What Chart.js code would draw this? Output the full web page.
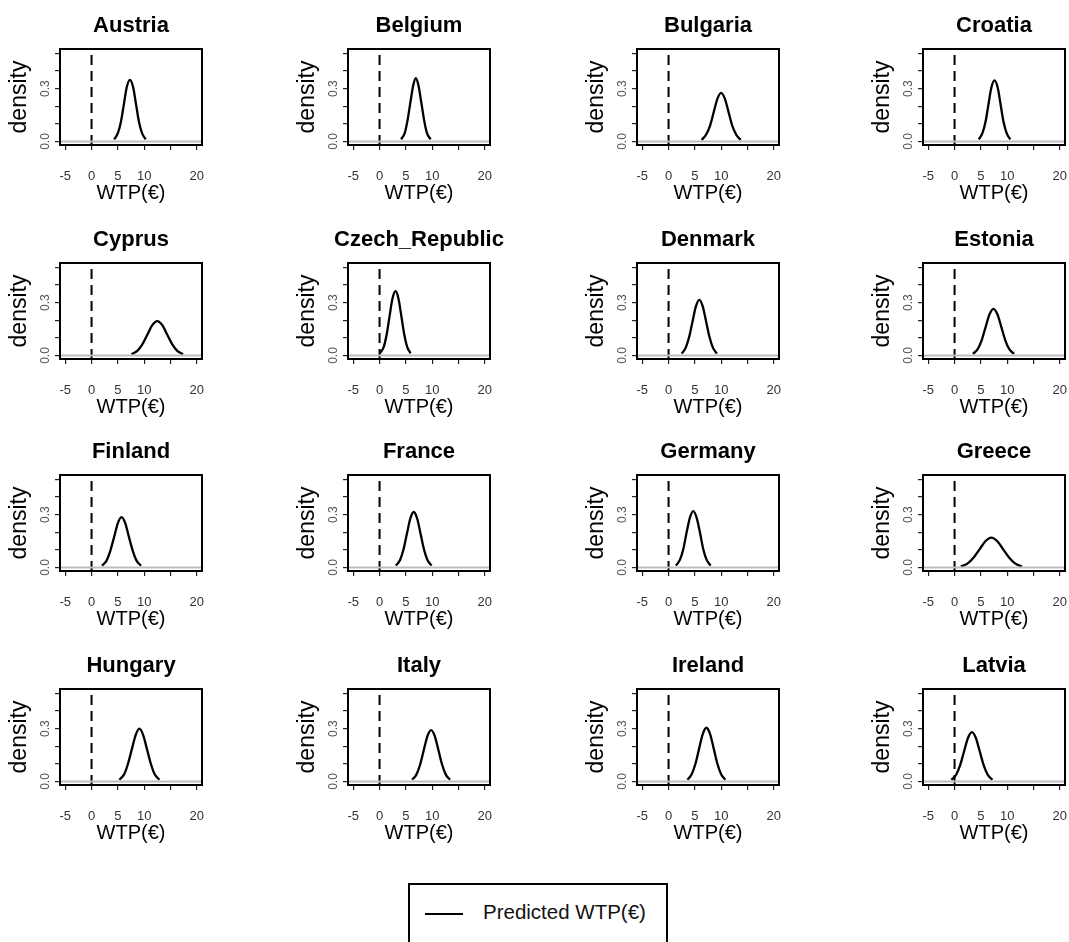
<!DOCTYPE html>
<html>
<head>
<meta charset="utf-8">
<title>Predicted WTP by country</title>
<script src="https://cdn.jsdelivr.net/npm/chart.js@4.4.1/dist/chart.umd.min.js"></script>
<style>
  html, body { margin: 0; padding: 0; background: #fff; width: 1069px; height: 942px; overflow: hidden; }
  #grid { position: absolute; left: 0; top: 0; width: 1069px; height: 942px; overflow: hidden; }
  .panel { position: absolute; }
  .legend {
    position: absolute; left: 408px; top: 883px; width: 260px; height: 80px;
    border: 2px solid #000; box-sizing: border-box; background: #fff;
  }
  .legend .swatch { position: absolute; left: 15px; top: 28px; width: 38px; height: 2px; background: #000; }
  .legend .label {
    position: absolute; left: 73px; top: 15px; font: 20.5px 'Liberation Sans', Arial, sans-serif;
    color: #111; white-space: nowrap;
  }
</style>
</head>
<body>
<div id="grid"></div>
<div class="legend"><span class="swatch"></span><span class="label">Predicted WTP(€)</span></div>
<script>
// ===== DATA =====
const countries = ['Austria', 'Belgium', 'Bulgaria', 'Croatia',
                   'Cyprus', 'Czech_Republic', 'Denmark', 'Estonia',
                   'Finland', 'France', 'Germany', 'Greece',
                   'Hungary', 'Italy', 'Ireland', 'Latvia'];

// WTP (€) positions of each density curve
const curveX = [
  [4.3, 5.0, 5.6, 6.15, 6.7, 7.3, 7.9, 8.45, 9.0, 9.6, 10.3],
  [4.1, 4.8, 5.3, 5.85, 6.4, 6.9, 7.4, 7.95, 8.5, 9.0, 9.7],
  [6.3, 7.1, 7.9, 8.6, 9.3, 10.0, 10.7, 11.4, 12.1, 12.9, 13.7],
  [4.6, 5.3, 5.9, 6.45, 7.0, 7.6, 8.2, 8.75, 9.3, 9.9, 10.6],
  [7.6, 8.7, 9.65, 10.6, 11.55, 12.5, 13.45, 14.4, 15.35, 16.3, 17.4],
  [0.05, 0.8, 1.35, 1.9, 2.45, 3.05, 3.6, 4.15, 4.7, 5.25, 5.9],
  [2.5, 3.25, 3.9, 4.55, 5.2, 5.85, 6.5, 7.15, 7.8, 8.45, 9.2],
  [3.5, 4.4, 5.15, 5.9, 6.65, 7.4, 8.15, 8.9, 9.65, 10.4, 11.3],
  [2.0, 2.85, 3.55, 4.3, 5.0, 5.7, 6.4, 7.1, 7.85, 8.55, 9.4],
  [3.1, 3.9, 4.55, 5.2, 5.85, 6.5, 7.15, 7.8, 8.45, 9.1, 9.9],
  [1.4, 2.15, 2.8, 3.4, 4.05, 4.7, 5.35, 6.0, 6.6, 7.25, 8.0],
  [1.2, 2.5, 3.6, 4.75, 5.9, 7.0, 8.1, 9.25, 10.4, 11.5, 12.8],
  [5.3, 6.2, 6.9, 7.65, 8.4, 9.1, 9.8, 10.55, 11.3, 12.0, 12.9],
  [6.2, 7.0, 7.7, 8.4, 9.1, 9.8, 10.5, 11.2, 11.9, 12.6, 13.4],
  [3.6, 4.4, 5.1, 5.8, 6.5, 7.2, 7.9, 8.6, 9.3, 10.0, 10.8],
  [-0.6, 0.3, 1.05, 1.8, 2.55, 3.3, 4.05, 4.8, 5.55, 6.3, 7.2]
];

// density values at those positions
const curveY = [
  [0.012, 0.047, 0.114, 0.212, 0.309, 0.350, 0.309, 0.212, 0.114, 0.047, 0.012],
  [0.012, 0.049, 0.117, 0.219, 0.318, 0.360, 0.318, 0.219, 0.117, 0.049, 0.012],
  [0.009, 0.037, 0.090, 0.168, 0.243, 0.276, 0.243, 0.168, 0.090, 0.037, 0.009],
  [0.012, 0.047, 0.113, 0.211, 0.306, 0.347, 0.306, 0.211, 0.113, 0.047, 0.012],
  [0.007, 0.026, 0.063, 0.118, 0.172, 0.195, 0.172, 0.118, 0.063, 0.026, 0.007],
  [0.012, 0.049, 0.119, 0.222, 0.322, 0.365, 0.322, 0.222, 0.119, 0.049, 0.012],
  [0.011, 0.043, 0.103, 0.192, 0.279, 0.316, 0.279, 0.192, 0.103, 0.043, 0.011],
  [0.009, 0.036, 0.086, 0.161, 0.234, 0.265, 0.234, 0.161, 0.086, 0.036, 0.009],
  [0.010, 0.039, 0.093, 0.174, 0.252, 0.286, 0.252, 0.174, 0.093, 0.039, 0.010],
  [0.011, 0.043, 0.102, 0.191, 0.278, 0.315, 0.278, 0.191, 0.102, 0.043, 0.011],
  [0.011, 0.043, 0.104, 0.194, 0.282, 0.320, 0.282, 0.194, 0.104, 0.043, 0.011],
  [0.006, 0.023, 0.055, 0.103, 0.150, 0.170, 0.150, 0.103, 0.055, 0.023, 0.006],
  [0.010, 0.041, 0.098, 0.182, 0.265, 0.300, 0.265, 0.182, 0.098, 0.041, 0.010],
  [0.010, 0.039, 0.095, 0.177, 0.258, 0.292, 0.258, 0.177, 0.095, 0.039, 0.010],
  [0.010, 0.041, 0.099, 0.185, 0.269, 0.305, 0.269, 0.185, 0.099, 0.041, 0.010],
  [0.010, 0.038, 0.091, 0.170, 0.247, 0.280, 0.247, 0.170, 0.091, 0.038, 0.010]
];

const xTicks = [-5, 0, 5, 10, 15, 20];
const xTickLabels = ['-5', '0', '5', '10', '', '20'];
const yTicks = [0, 0.1, 0.2, 0.3, 0.4, 0.5];
const yTickLabels = ['0.0', '', '', '0.3', '', ''];

const X_MIN = -6, X_MAX = 21;
const Y_MIN = -0.02, Y_MAX = 0.525;

// ===== LAYOUT =====
const COL_LEFT = [60, 348, 637, 923];
const ROW_TOP = [49, 263, 475, 689];
const BOX_W = 142, BOX_H = 96;
// same margin on both sides (an empty right axis) so the title centres over the box
const SIDE = 60, TITLE_H = 49, AXIS_X_H = 68;

const SANS = "'Liberation Sans', Arial, sans-serif";

// black box around the plotting region (R style)
const framePlugin = {
  id: 'frame',
  afterDatasetsDraw(chart) {
    const { ctx, chartArea: a } = chart;
    ctx.save();
    ctx.strokeStyle = '#000';
    ctx.lineWidth = 2;
    ctx.strokeRect(a.left, a.top, a.right - a.left, a.bottom - a.top);
    ctx.restore();
  }
};

function initPanel(i) {
  const col = i % 4, row = Math.floor(i / 4);
  const canvas = document.createElement('canvas');
  canvas.className = 'panel';
  canvas.width = SIDE + BOX_W + SIDE;
  canvas.height = TITLE_H + BOX_H + AXIS_X_H;
  canvas.style.left = (COL_LEFT[col] - SIDE) + 'px';
  canvas.style.top = (ROW_TOP[row] - TITLE_H) + 'px';
  document.getElementById('grid').appendChild(canvas);

  new Chart(canvas, {
    type: 'line',
    data: {
      datasets: [
        {
          // density = 0 reference
          data: [{ x: X_MIN, y: 0 }, { x: X_MAX, y: 0 }],
          borderColor: '#bdbdbd', borderWidth: 2, pointRadius: 0
        },
        {
          // WTP = 0
          data: [{ x: 0, y: Y_MIN }, { x: 0, y: Y_MAX }],
          borderColor: '#000', borderWidth: 2, borderDash: [10, 6], pointRadius: 0
        },
        {
          label: 'Predicted WTP(€)',
          data: curveX[i].map((x, k) => ({ x, y: curveY[i][k] })),
          borderColor: '#000', borderWidth: 2.3, pointRadius: 0,
          cubicInterpolationMode: 'monotone'
        }
      ]
    },
    options: {
      responsive: false,
      animation: false,
      events: [],
      layout: { padding: 0 },
      plugins: {
        legend: { display: false },
        tooltip: { enabled: false },
        title: {
          display: true, text: countries[i], color: '#000',
          font: { family: SANS, weight: 'bold', size: 22, lineHeight: 1.2 },
          padding: { top: 13, bottom: 9.6 }
        }
      },
      scales: {
        x: {
          type: 'linear', min: X_MIN, max: X_MAX,
          afterFit: s => { s.height = AXIS_X_H; },
          afterBuildTicks: s => { s.ticks = xTicks.map(v => ({ value: v })); },
          ticks: {
            autoSkip: false, maxRotation: 0, padding: 19, color: '#333',
            font: { family: SANS, size: 13 },
            callback: (v, idx) => xTickLabels[idx]
          },
          grid: { drawOnChartArea: false, tickLength: 5, color: '#222', lineWidth: 1.2 },
          border: { display: false },
          title: {
            display: true, text: 'WTP(€)', color: '#000',
            font: { family: SANS, size: 20, lineHeight: 1.2 },
            padding: { top: 0, bottom: 8 }
          }
        },
        y: {
          type: 'linear', min: Y_MIN, max: Y_MAX,
          afterFit: s => { s.width = SIDE; },
          afterBuildTicks: s => { s.ticks = yTicks.map(v => ({ value: v })); },
          ticks: {
            autoSkip: false, minRotation: 90, maxRotation: 90, crossAlign: 'center',
            padding: 1, color: '#555', font: { family: SANS, size: 12 },
            callback: (v, idx) => yTickLabels[idx]
          },
          grid: { drawOnChartArea: false, tickLength: 5, color: '#222', lineWidth: 1.2 },
          border: { display: false },
          title: {
            display: true, text: 'density', color: '#000',
            font: { family: SANS, size: 23, lineHeight: 1.2 },
            padding: { top: 6, bottom: 0 }
          }
        },
        // empty right-hand margin
        yRight: {
          type: 'linear', position: 'right', min: Y_MIN, max: Y_MAX,
          afterFit: s => { s.width = SIDE; },
          ticks: { display: false },
          grid: { display: false },
          border: { display: false }
        }
      }
    },
    plugins: [framePlugin]
  });
}

document.addEventListener('DOMContentLoaded', function() {
  countries.forEach((_, i) => initPanel(i));
});
</script>
</body>
</html>
